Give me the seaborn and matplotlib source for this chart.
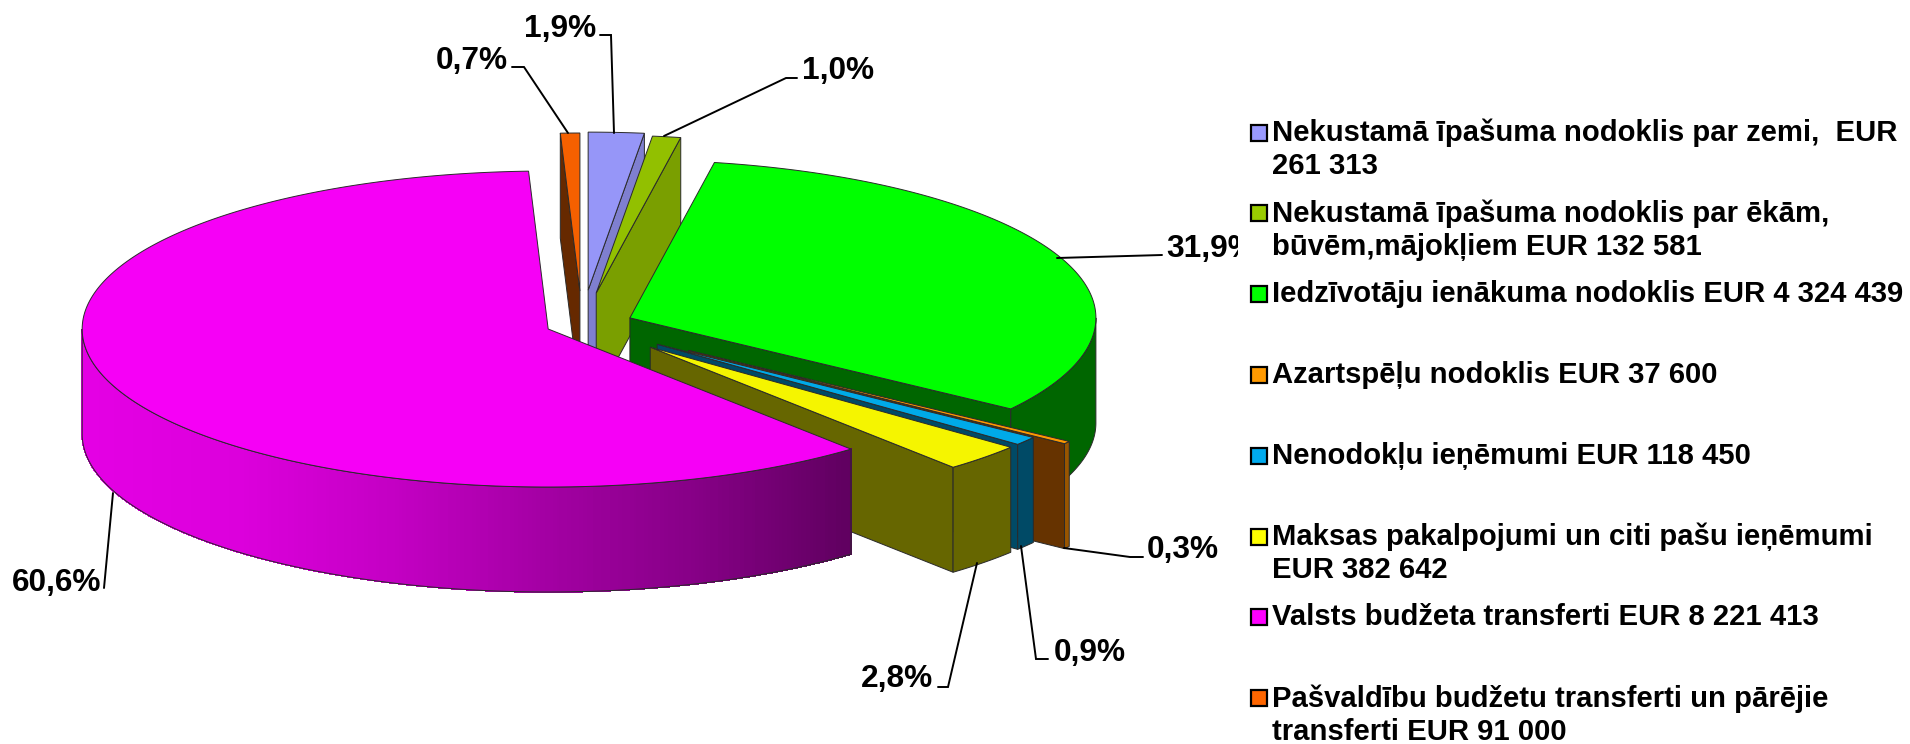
import numpy as np
import matplotlib
matplotlib.use("Agg")
import matplotlib.pyplot as plt
from matplotlib.patches import Rectangle
import seaborn as sns

# ---- data -------------------------------------------------------------
names = ["Nekustamā īpašuma nodoklis par zemi,  EUR\n261 313",
         "Nekustamā īpašuma nodoklis par ēkām,\nbūvēm,mājokļiem EUR 132 581",
         "Iedzīvotāju ienākuma nodoklis EUR 4 324 439",
         "Azartspēļu nodoklis EUR 37 600",
         "Nenodokļu ieņēmumi EUR 118 450",
         "Maksas pakalpojumi un citi pašu ieņēmumi\nEUR 382 642",
         "Valsts budžeta transferti EUR 8 221 413",
         "Pašvaldību budžetu transferti un pārējie\ntransferti EUR 91 000"]
values = [261313, 132581, 4324439, 37600, 118450, 382642, 8221413, 91000]
pct_labels = ["1,9%", "1,0%", "31,9%", "0,3%", "0,9%", "2,8%", "60,6%", "0,7%"]

# ---- styles -----------------------------------------------------------
top_colors = sns.color_palette(["#9696F8", "#92C000", "#00FF00", "#FF9900",
                                "#00AAE8", "#F5F500", "#F600F6", "#F56000"])
side_colors = sns.color_palette(["#7F7FD0", "#7A9F00", "#006600", "#663300",
                                 "#004A66", "#666600", "#600060", "#662900"])
rim_colors = sns.color_palette(["#7F7FD0", "#7A9F00", "#006600", "#995500",
                                "#004A66", "#666600", "#600060", "#662900"])
legend_colors = sns.color_palette(["#9999FF", "#99CC00", "#00FF00", "#FF9900",
                                   "#00AAEE", "#FFFF00", "#FF00FF", "#FF6600"])
explode = [0.218, 0.202, 0.111, 0.281, 0.204, 0.205, 0.078, 0.212]
draw_order = [7, 0, 1, 2, 3, 4, 5, 6]
CX, CY, RX, RY, DEPTH = 582, 324.5, 466, 158, 105
EDGE = "#2a2a2a"
LW = 0.7

sns.set_theme(style="white")
plt.rcParams["font.family"] = ["Liberation Sans", "DejaVu Sans"]

fig = plt.figure(figsize=(19.10, 7.44), dpi=100, facecolor="white")
ax = fig.add_axes([0, 0, 1, 1])
ax.set_xlim(0, 1910)
ax.set_ylim(744, 0)
ax.axis("off")

fractions = np.array(values) / np.sum(values)
edges = np.concatenate([[0], np.cumsum(fractions) * 360])
def rim(phi, ox, oy):
    p = np.radians(phi)
    return ox + RX * np.sin(p), oy - RY * np.cos(p)

grad_pal = sns.blend_palette(["#E400E4", "#DC00DC", "#C400C4", "#A400A4", "#860086", "#600060"], 200)

z = 2
for i in draw_order:
    a0, a1 = edges[i], edges[i + 1]
    mid = np.radians((a0 + a1) / 2)
    ox = CX + explode[i] * RX * np.sin(mid)
    oy = CY - explode[i] * RY * np.cos(mid)
    # cut faces
    for phi, normal in ((a0, a0 - 90), (a1, a1 + 90)):
        if -np.cos(np.radians(normal)) > 0:
            rx, ry = rim(phi, ox, oy)
            ax.fill([ox, rx, rx, ox], [oy, ry, ry + DEPTH, oy + DEPTH],
                    fc=side_colors[i], ec=EDGE, lw=LW, zorder=z)
    # outer wall
    r0, r1 = max(a0, 90), min(a1, 270)
    if r1 > r0:
        ph = np.linspace(r0, r1, max(int((r1 - r0) * 4), 4))
        xs, ys = rim(ph, ox, oy)
        if i == 6:
            xmin, xmax = xs.min(), xs.max()
            for k in range(len(ph) - 1):
                t = ((xs[k] + xs[k + 1]) / 2 - xmin) / (xmax - xmin)
                col = grad_pal[min(int(t * len(grad_pal)), len(grad_pal) - 1)]
                ax.fill([xs[k], xs[k + 1], xs[k + 1], xs[k]],
                        [ys[k], ys[k + 1], ys[k + 1] + DEPTH, ys[k] + DEPTH],
                        fc=col, ec=col, lw=0.6, zorder=z, antialiased=False)
            ax.fill(np.r_[xs, xs[::-1]], np.r_[ys, ys[::-1] + DEPTH],
                    fc="none", ec=EDGE, lw=LW, zorder=z)
        else:
            ax.fill(np.r_[xs, xs[::-1]], np.r_[ys, ys[::-1] + DEPTH],
                    fc=rim_colors[i], ec=EDGE, lw=LW, zorder=z)
    # top
    ph = np.linspace(a0, a1, max(int((a1 - a0) * 3), 4))
    xs, ys = rim(ph, ox, oy)
    ax.fill(np.r_[ox, xs], np.r_[oy, ys], fc=top_colors[i], ec=EDGE, lw=LW, zorder=z)
    z += 1

# ---- percentage labels and leader lines --------------------------------
label_pos = [(560, 29), (838, 71), (1166, 249), (1147, 550), (1054, 653),
             (861, 679), (12, 583), (472, 61)]
label_ha = ["center", "center", "left", "left", "left", "left", "left", "center"]
leaders = [[(600, 35), (611, 35), (614, 133)],
           [(797, 78), (786, 78), (664, 136)],
           [(1162, 255), (1057, 258)],
           [(1143, 557), (1130, 557), (1064, 548)],
           [(1048, 659), (1036, 659), (1021, 546)],
           [(938, 687), (948, 687), (977, 563)],
           [(104, 588), (113, 493)],
           [(512, 67), (524, 67), (568, 133)]]
for txt, pos, ha, line in zip(pct_labels, label_pos, label_ha, leaders):
    ax.text(pos[0], pos[1], txt, ha=ha, va="center", fontsize=22.8, fontweight="bold",
            color="black", zorder=20)
    ax.plot(*zip(*line), color="black", lw=1.4, zorder=21, solid_joinstyle="miter")

# ---- legend ------------------------------------------------------------
ax.add_patch(Rectangle((1238, 0), 672, 744, fc="white", ec="none", zorder=30))
for k, (nm, col) in enumerate(zip(names, legend_colors)):
    yc = 132.5 + k * 80.8
    ax.add_patch(Rectangle((1251, yc - 8), 16, 16, fc=col, ec="black", lw=1.6, zorder=31))
    ax.text(1272, yc - 14, nm, ha="left", va="top", fontsize=21.1, fontweight="bold",
            color="black", linespacing=1.24, zorder=31)

fig.savefig("out.png", dpi=100, facecolor="white")
